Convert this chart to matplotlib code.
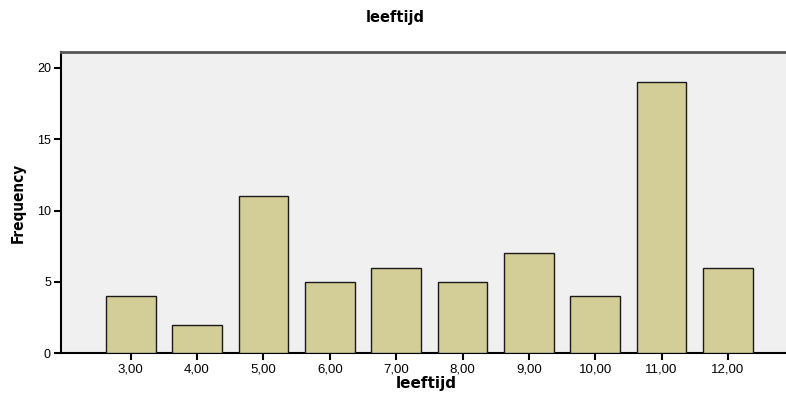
import numpy as np
from matplotlib import pyplot as plt

# frequency per age (leeftijd)
ages = [3, 4, 5, 6, 7, 8, 9, 10, 11, 12]
age_labels = ["3,00", "4,00", "5,00", "6,00", "7,00", "8,00", "9,00", "10,00", "11,00", "12,00"]
counts = [4, 2, 11, 5, 6, 5, 7, 4, 19, 6]
yticks = [0, 5, 10, 15, 20]

plt.rcParams['font.family'] = ['Liberation Sans', 'DejaVu Sans']

fig = plt.figure(figsize=(7.86, 3.93), dpi=100)
ax = fig.add_axes([0.0772, 0.101, 0.93, 0.7667])
ax.set_facecolor('#F0F0F0')

x = np.arange(len(ages))
ax.bar(x, counts, width=0.75, color='#D3CE97', edgecolor='#1a1a1a', linewidth=1.0, zorder=3)

ax.set_xlim(-1.055, 9.96)
ax.set_ylim(0, 21.1)
ax.set_xticks(x)
ax.set_xticklabels(age_labels, fontsize=9.5)
ax.set_yticks(yticks)
ax.set_yticklabels([str(v) for v in yticks], fontsize=9)
ax.tick_params(axis='both', direction='out', length=5, width=1.5, color='black', pad=2)

for side in ['left', 'bottom']:
    ax.spines[side].set_linewidth(1.5)
    ax.spines[side].set_color('black')
ax.spines['top'].set_linewidth(2)
ax.spines['top'].set_color('#555555')
ax.spines['right'].set_visible(False)

ax.set_xlabel('leeftijd', fontsize=11, fontweight='bold', labelpad=1, family='DejaVu Sans')
ax.set_ylabel('Frequency', fontsize=11, fontweight='bold', labelpad=8,
              family='DejaVu Sans', fontstretch='condensed')
fig.text(0.503, 0.955, 'leeftijd', ha='center', va='center', fontsize=10.5,
         fontweight='bold', family='DejaVu Sans')

fig.savefig('out.png', dpi=100)
